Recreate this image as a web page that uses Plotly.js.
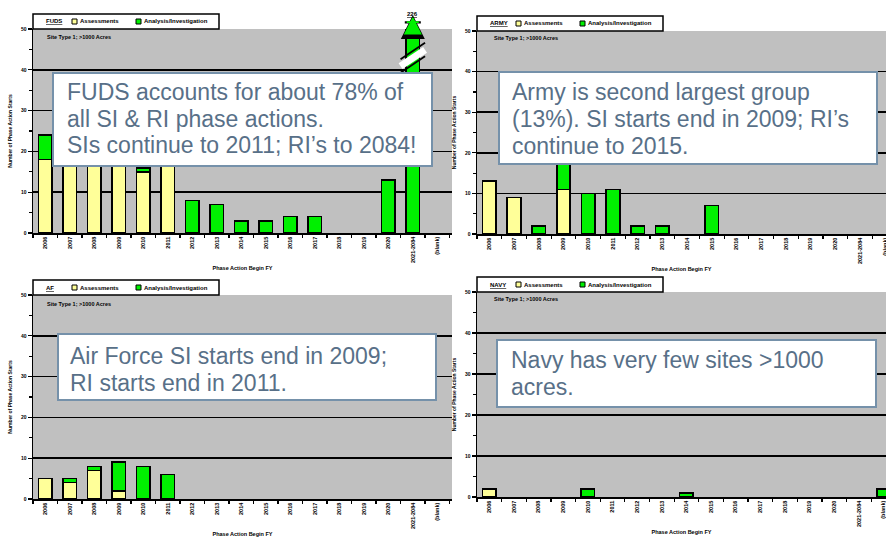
<!DOCTYPE html>
<html>
<head>
<meta charset="utf-8">
<script src="https://cdn.plot.ly/plotly-3.0.1.min.js"></script>
<style>html,body{margin:0;padding:0;background:#fff;}#chart{width:886px;height:537px;}</style>
</head>
<body>
<div id="chart"></div>
<script>
// ---- data ----
const categories = ['2006','2007','2008','2009','2010','2011','2012','2013','2014','2015','2016','2017','2018','2019','2020','2021-2084','(blank)'];
const seriesNames = ['Assessments', 'Analysis/Investigation'];

const fudsAssess = [18, 32, 35, 33, 15, 32, 0, 0, 0, 0, 0, 0, 0, 0, 0, 0, 0];
const fudsInvest = [6, 0, 0, 0, 1, 0, 8, 7, 3, 3, 4, 4, 0, 0, 13, 226, 0];

const armyAssess = [13, 9, 0, 11, 0, 0, 0, 0, 0, 0, 0, 0, 0, 0, 0, 0, 0];
const armyInvest = [0, 0, 2, 9, 10, 11, 2, 2, 0, 7, 0, 0, 0, 0, 0, 0, 0];

const afAssess = [5, 4, 7, 2, 0, 0, 0, 0, 0, 0, 0, 0, 0, 0, 0, 0, 0];
const afInvest = [0, 1, 1, 7, 8, 6, 0, 0, 0, 0, 0, 0, 0, 0, 0, 0, 0];

const navyAssess = [2, 0, 0, 0, 0, 0, 0, 0, 0, 0, 0, 0, 0, 0, 0, 0, 0];
const navyInvest = [0, 0, 0, 0, 2, 0, 0, 0, 1, 0, 0, 0, 0, 0, 0, 0, 2];

const panelNames = ['FUDS', 'ARMY', 'AF', 'NAVY'];
const subtitle = 'Site Type 1; >1000 Acres';
const yTitle = 'Number of Phase Action Starts';
const xTitle = 'Phase Action Begin FY';
const notes = [
  ['FUDS accounts for about 78% of', 'all SI &amp; RI phase actions.', 'SIs continue to 2011; RI\u2019s to 2084!'],
  ['Army is second largest group', '(13%). SI starts end in 2009; RI\u2019s', 'continue to 2015.'],
  ['Air Force SI starts end in 2009;', 'RI starts end in 2011.'],
  ['Navy has very few sites >1000', 'acres.']
];
const breakLabel = '226';

// ---- styling ----
const W = 886, H = 537;
const px = v => v / W;
const py = v => 1 - v / H;
const YELLOW = '#ffff99', GREEN = '#00f000', GREY = '#c0c0c0';
const NOTE_COLOR = '#587088', NOTE_BORDER = '#7591aa';
const FONT = 'Liberation Sans, Arial, sans-serif';

const panels = [
  {a: fudsAssess, i: fudsInvest, dom: {x:[33,452], y:[29,233]}, range:[-0.5,16.6],
   box:[53,73,432,166], textX:65, lineY:[92,119,145], sub:[45,37]},
  {a: armyAssess, i: armyInvest, dom: {x:[477,886], y:[31,234]}, range:[-0.5,16.05],
   box:[499,72,877,164], textX:510, lineY:[92,119,146], sub:[492,38]},
  {a: afAssess, i: afInvest, dom: {x:[33,452], y:[295,499]}, range:[-0.5,16.6],
   box:[58,334,436,400], textX:68, lineY:[356,383], sub:[45,304]},
  {a: navyAssess, i: navyInvest, dom: {x:[477,886], y:[292,497]}, range:[-0.5,16.1],
   box:[497,340,876,407], textX:509, lineY:[360,387], sub:[492,299]}
];

const nz = arr => arr.map(v => v === 0 ? null : v);
const traces = [];
const layout = {
  width: W, height: H,
  margin: {l:0, r:0, t:0, b:0},
  paper_bgcolor: '#ffffff',
  plot_bgcolor: GREY,
  barmode: 'stack',
  bargap: 0.45,
  showlegend: false,
  font: {family: FONT, color: '#000'},
  annotations: [],
  shapes: []
};
const topShapes = [];

panels.forEach((p, k) => {
  const n = k + 1;
  const xa = 'x' + (n === 1 ? '' : n), ya = 'y' + (n === 1 ? '' : n);
  [[p.a, YELLOW, seriesNames[0]], [p.i, GREEN, seriesNames[1]]].forEach(([vals, col, name]) => {
    traces.push({
      type: 'bar', x: categories, y: nz(vals), name: name,
      xaxis: xa, yaxis: ya, showlegend: false,
      marker: {color: col, line: {color: '#000', width: 1.6}},
      cliponaxis: true
    });
  });
  layout['xaxis' + (n === 1 ? '' : n)] = {
    domain: [px(p.dom.x[0]), px(p.dom.x[1])], anchor: ya,
    type: 'category', range: p.range, tickangle: -90,
    tickfont: {size: 5.5, weight: 'bold', family: FONT},
    ticks: 'outside', tickson: 'boundaries', ticklen: 3, tickwidth: 1.2, tickcolor: '#000',
    showline: true, linecolor: '#000', linewidth: 1.5, showgrid: false, zeroline: false,
    title: {text: xTitle, font: {size: 5.5, weight: 'bold', family: FONT}, standoff: 4},
    automargin: false, fixedrange: true
  };
  layout['yaxis' + (n === 1 ? '' : n)] = {
    domain: [py(p.dom.y[1]), py(p.dom.y[0])], anchor: xa,
    range: [0, 50], dtick: 10, tick0: 0,
    showgrid: true, gridcolor: '#000', gridwidth: 1.5,
    ticks: 'outside', ticklen: 4, tickwidth: 1.2, tickcolor: '#000',
    minor: {dtick: 5, ticks: 'outside', ticklen: 3, tickwidth: 1.2, tickcolor: '#000', showgrid: false},
    showline: true, linecolor: '#000', linewidth: 1.5, zeroline: false,
    tickfont: {size: 5, weight: 'bold', family: FONT},
    title: {text: yTitle, font: {size: 5, weight: 'bold', family: FONT}, standoff: 8},
    automargin: false, fixedrange: true
  };

  // legend box (drawn above plot top-left)
  const x0 = p.dom.x[0], yTop = p.dom.y[0];
  const lyc = yTop - 7.5;
  topShapes.push({
    type: 'rect', xref: 'paper', yref: 'paper', layer: 'above',
    x0: px(x0), x1: px(x0 + 186), y0: py(yTop), y1: py(yTop - 15),
    fillcolor: '#ffffff', line: {color: '#000', width: 1.5}
  });
  [[x0 + 39, YELLOW], [x0 + 103, GREEN]].forEach(([sx, col]) => {
    topShapes.push({
      type: 'rect', xref: 'paper', yref: 'paper', layer: 'above',
      x0: px(sx), x1: px(sx + 5), y0: py(lyc + 2.5), y1: py(lyc - 2.5),
      fillcolor: col, line: {color: '#000', width: 1}
    });
  });
  layout.annotations.push(
    {xref:'paper', yref:'paper', x: px(x0 + 11), y: py(lyc), xanchor:'left', yanchor:'middle', showarrow:false,
     text: '<b><u>' + panelNames[k] + '</u></b>', font: {size: 6, family: FONT}},
    {xref:'paper', yref:'paper', x: px(x0 + 45), y: py(lyc), xanchor:'left', yanchor:'middle', showarrow:false,
     text: '<b>' + seriesNames[0] + '</b>', font: {size: 6, family: FONT}},
    {xref:'paper', yref:'paper', x: px(x0 + 109), y: py(lyc), xanchor:'left', yanchor:'middle', showarrow:false,
     text: '<b>' + seriesNames[1] + '</b>', font: {size: 6, family: FONT}}
  );

  // subtitle
  layout.annotations.push({
    xref: 'paper', yref: 'paper', x: px(p.sub[0]), y: py(p.sub[1]),
    xanchor: 'left', yanchor: 'middle', showarrow: false,
    text: '<b>' + subtitle + '</b>', font: {size: 5.5, family: FONT}
  });
  // note box
  topShapes.push({
    type: 'rect', xref: 'paper', yref: 'paper', layer: 'above',
    x0: px(p.box[0]), x1: px(p.box[2]), y0: py(p.box[3]), y1: py(p.box[1]),
    fillcolor: '#ffffff', line: {color: NOTE_BORDER, width: 2}
  });
  notes[k].forEach((line, j) => {
    layout.annotations.push({
      xref: 'paper', yref: 'paper', x: px(p.textX), y: py(p.lineY[j]),
      xanchor: 'left', yanchor: 'middle', align: 'left', showarrow: false,
      text: line, font: {size: 23, color: NOTE_COLOR, family: FONT}
    });
  });
});

// broken bar (FUDS, 226): break marks + arrow above the plot
const bigIdx = fudsInvest.indexOf(Math.max(...fudsInvest));
const bigCat = categories[bigIdx];
layout.shapes.push(
  {type:'line', xref:'x', yref:'y', x0: bigIdx-0.5, x1: bigIdx+0.5, y0: 40.9, y1: 44.9, line:{color:'#ffffff', width:7}, layer:'above'},
  {type:'line', xref:'x', yref:'y', x0: bigIdx-0.5, x1: bigIdx+0.5, y0: 42.6, y1: 46.6, line:{color:'#000', width:1.8}, layer:'above'},
  {type:'line', xref:'x', yref:'y', x0: bigIdx-0.5, x1: bigIdx+0.5, y0: 39.3, y1: 43.3, line:{color:'#000', width:1.8}, layer:'above'}
);
layout.shapes = layout.shapes.concat(topShapes);
layout.annotations.push(
  {xref:'x', yref:'paper', x: bigCat, y: py(15), ax: 0, ay: 17, axref:'pixel', ayref:'pixel',
   showarrow: true, arrowhead: 2, arrowsize: 0.3, arrowwidth: 16, arrowcolor: '#000', text: ' ', standoff: 0},
  {xref:'x', yref:'paper', x: bigCat, y: py(16.5), ax: 0, ay: 15, axref:'pixel', ayref:'pixel',
   showarrow: true, arrowhead: 2, arrowsize: 0.3, arrowwidth: 12, arrowcolor: GREEN, text: ' ', standoff: 0},
  {xref:'x', yref:'paper', x: bigCat, y: py(9), showarrow: false,
   text: '<b><u>' + breakLabel + '</u></b>', font: {size: 6, family: FONT}}
);

Plotly.newPlot('chart', traces, layout, {displayModeBar: false, staticPlot: true});
</script>
</body>
</html>
